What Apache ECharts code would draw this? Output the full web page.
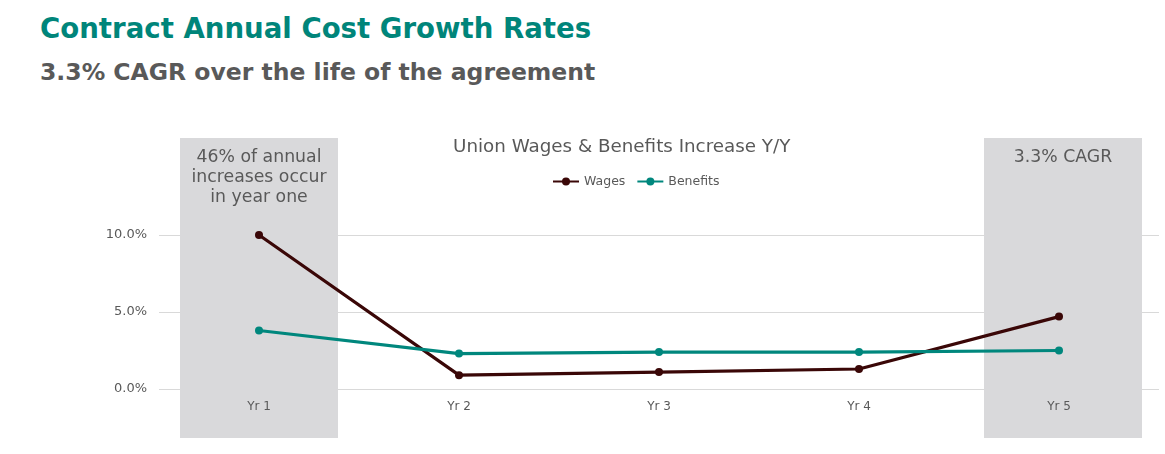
<!doctype html>
<html lang="en">
<head>
    <meta charset="UTF-8">
    <title>Contract Annual Cost Growth Rates</title>
    <script type="text/javascript" src="https://cdn.jsdelivr.net/npm/echarts@6/dist/echarts.min.js"></script>
    <style>
        body { margin: 0; background: #fff; font-family: "DejaVu Sans", Verdana, sans-serif; }
        .head { position: absolute; left: 40px; top: 0; }
        .head h1 { margin: 0; position: absolute; top: 12px; white-space: nowrap; font-size: 27.6px; color: #00857a; font-weight: bold; }
        .head h2 { margin: 0; position: absolute; top: 58px; white-space: nowrap; font-size: 23.5px; color: #595959; font-weight: bold; }
    </style>
</head>
<body>
<div class="head">
    <h1>Contract Annual Cost Growth Rates</h1>
    <h2>3.3% CAGR over the life of the agreement</h2>
</div>
<div id="main" style="width: 1165px; height: 454px;"></div>

<script type="text/javascript">
    var years = ['Yr 1', 'Yr 2', 'Yr 3', 'Yr 4', 'Yr 5'];
    var wages = [10.0, 0.9, 1.1, 1.3, 4.7];
    var benefits = [3.8, 2.3, 2.4, 2.4, 2.5];
    var noteYears = ['Yr 1', 'Yr 5'];
    var noteTexts = ['46% of annual\nincreases occur\nin year one', '3.3% CAGR'];

    var myChart = echarts.init(document.getElementById('main'));

    var option = {
        animation: false,
        textStyle: { fontFamily: 'DejaVu Sans' },
        title: {
            text: 'Union Wages & Benefits Increase Y/Y',
            left: 448,
            top: 133,
            textStyle: { color: '#595959', fontSize: 18.3, fontWeight: 'normal' }
        },
        legend: {
            data: ['Wages', 'Benefits'],
            left: 547,
            top: 170,
            itemWidth: 26,
            itemHeight: 10,
            itemGap: 11,
            textStyle: { color: '#595959', fontSize: 12.5 }
        },
        grid: {
            left: 159,
            right: 6,
            top: 235,
            bottom: 65
        },
        xAxis: {
            type: 'category',
            data: years,
            z: 3,
            axisLine: { show: false },
            axisTick: { show: false },
            axisLabel: { color: '#595959', fontSize: 12, margin: 12 }
        },
        yAxis: {
            type: 'value',
            min: 0,
            max: 10,
            interval: 5,
            axisLabel: {
                color: '#595959',
                fontSize: 13,
                margin: 12,
                formatter: function (v) { return v.toFixed(1) + '%'; }
            },
            splitLine: { lineStyle: { color: '#d9d9d9', width: 1 } }
        },
        series: [
            {
                // grey call-out boxes behind year 1 and year 5
                type: 'custom',
                z: 2,
                silent: true,
                data: noteYears.map(function (y, i) { return [years.indexOf(y), i]; }),
                encode: { x: 0 },
                renderItem: function (params, api) {
                    var idx = api.value(0);
                    var c = api.coord([idx, 0]);
                    var w = api.size([1, 0])[0] * 0.79;
                    var cx = c[0] + (idx > 0 ? 4 : 0);
                    var top = params.coordSys.y - 97;
                    var h = 300;
                    return {
                        type: 'group',
                        children: [
                            {
                                type: 'rect',
                                shape: { x: cx - w / 2, y: top, width: w, height: h },
                                style: { fill: '#d9d9db' }
                            },
                            {
                                type: 'text',
                                x: cx,
                                y: top + 10,
                                style: {
                                    text: noteTexts[api.value(1)],
                                    fill: '#595959',
                                    font: '17.3px "DejaVu Sans"',
                                    align: 'center',
                                    verticalAlign: 'top',
                                    lineHeight: 20
                                }
                            }
                        ]
                    };
                }
            },
            {
                name: 'Wages',
                type: 'line',
                z: 4,
                data: wages,
                symbol: 'circle',
                symbolSize: 8,
                itemStyle: { color: '#3a0707' },
                lineStyle: { color: '#3a0707', width: 3.2 }
            },
            {
                name: 'Benefits',
                type: 'line',
                z: 4,
                data: benefits,
                symbol: 'circle',
                symbolSize: 8,
                itemStyle: { color: '#00877d' },
                lineStyle: { color: '#00877d', width: 3.2 }
            }
        ]
    };

    myChart.setOption(option);
</script>
</body>
</html>
